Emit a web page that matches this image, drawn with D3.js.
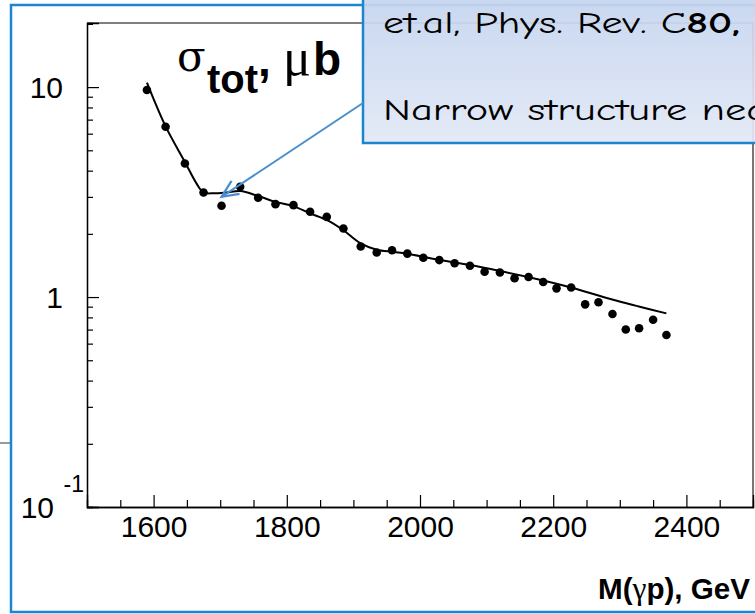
<!DOCTYPE html>
<html><head><meta charset="utf-8">
<script src="https://cdn.jsdelivr.net/npm/d3@7/dist/d3.min.js"></script>
<style>
html,body{margin:0;padding:0;background:#fff;overflow:hidden;}
svg{display:block;}
</style></head>
<body>
<svg id="chart" width="755" height="614"></svg>
<script>
// ---- data ----
const massPoints = [1590,1618,1647,1675,1702,1730,1757,1783,1810,1835,1860,1885,1911,1935,1958,1981,2005,2029,2052,2075,2097,2120,2142,2163,2185,2205,2227,2248,2268,2289,2309,2329,2350,2370];
const sigmaPoints = [9.68,6.47,4.33,3.15,2.72,3.35,2.97,2.77,2.74,2.55,2.41,2.12,1.74,1.63,1.67,1.61,1.54,1.50,1.45,1.41,1.32,1.31,1.23,1.245,1.18,1.10,1.11,0.923,0.944,0.83,0.70,0.71,0.78,0.66];
const massFit = [1590,1618,1647,1665,1675,1690,1710,1730,1757,1783,1810,1835,1860,1885,1911,1935,1960,1985,2030,2075,2120,2185,2227,2290,2330,2370];
const sigmaFit = [10.5,6.5,4.4,3.45,3.15,3.12,3.15,3.2,3.03,2.84,2.71,2.50,2.33,2.08,1.80,1.68,1.64,1.60,1.50,1.42,1.33,1.20,1.11,0.97,0.90,0.836];
const xMajorTicks = [1600,1800,2000,2200,2400];
const xMinorTicks = [1550,1650,1700,1750,1850,1900,1950,2050,2100,2150,2250,2300,2350,2450];
const yMajorTicks = [0.1,1,10];
const yMinorTicks = [0.2,0.3,0.4,0.5,0.6,0.7,0.8,0.9,2,3,4,5,6,7,8,9,20];
const arrowTarget = {m:1702, s:3.0};

const svg = d3.select("#chart");
const L=87, R=753, T=23, B=507;
const x = d3.scaleLinear().domain([1500,2500]).range([L,R]);
const y = d3.scaleLog().domain([0.1, 20.2]).range([B,T]);

// outer slide frame
svg.append("line").attr("x1",0).attr("x2",10).attr("y1",443).attr("y2",443)
  .attr("stroke","#9a9a9a").attr("stroke-width",2);
svg.append("rect").attr("x",11).attr("y",5).attr("width",800).attr("height",607)
  .attr("fill","#fff").attr("stroke","#1a86d0").attr("stroke-width",2.5);

// plot frame top/right
svg.append("line").attr("x1",L).attr("x2",R).attr("y1",T).attr("y2",T).attr("stroke","#555").attr("stroke-width",1.3);
svg.append("line").attr("x1",R).attr("x2",R).attr("y1",T).attr("y2",B).attr("stroke","#777").attr("stroke-width",2);

const lf = "Liberation Sans, Arial, sans-serif";
const sf = "DejaVu Serif, Liberation Serif, serif";

// axes
const gx = svg.append("g").attr("transform",`translate(0,${B})`);
gx.call(d3.axisBottom(x).tickValues(xMajorTicks).tickSize(-12).tickPadding(9).tickFormat(d3.format("d")));
gx.append("g").call(d3.axisBottom(x).tickValues(xMinorTicks).tickSize(-7).tickFormat(""));
gx.selectAll(".domain").attr("stroke","#000").attr("stroke-width",1.3);
gx.selectAll(".tick line").attr("stroke","#000").attr("stroke-width",1.2);
gx.selectAll(".tick text").attr("font-family",lf).attr("font-size",30).attr("fill","#000");

const gy = svg.append("g").attr("transform",`translate(${L},0)`);
gy.call(d3.axisLeft(y).tickValues(yMajorTicks).tickSize(-12).tickFormat(""));
gy.append("g").call(d3.axisLeft(y).tickValues(yMinorTicks).tickSize(-6).tickFormat(""));
gy.selectAll(".domain").attr("stroke","#000").attr("stroke-width",1.3);
gy.selectAll(".tick line").attr("stroke","#000").attr("stroke-width",1.2);

// y labels
svg.append("text").attr("x",63).attr("y",y(10)).attr("dy","0.36em").attr("text-anchor","end")
  .attr("font-family",lf).attr("font-size",30).text("10");
svg.append("text").attr("x",63).attr("y",y(1)).attr("dy","0.36em").attr("text-anchor","end")
  .attr("font-family",lf).attr("font-size",30).text("1");
svg.append("text").attr("x",54).attr("y",y(0.1)+11).attr("text-anchor","end")
  .attr("font-family",lf).attr("font-size",30).text("10");
svg.append("text").attr("x",84).attr("y",y(0.1)-15).attr("text-anchor","end")
  .attr("font-family",lf).attr("font-size",23).text("-1");

// x title
const xt = svg.append("text").attr("x",750).attr("y",599).attr("text-anchor","end")
  .attr("font-family",lf).attr("font-weight","bold").attr("font-size",30)
  .attr("textLength",152).attr("lengthAdjust","spacingAndGlyphs");
xt.append("tspan").text("M(");
xt.append("tspan").attr("font-family","Liberation Serif, serif").attr("font-weight","normal").attr("font-size",32).text("γ");
xt.append("tspan").text("p), GeV");

// y title
const yt = svg.append("text").attr("font-family",lf).attr("font-weight","bold").attr("fill","#000");
yt.append("tspan").attr("x",177).attr("y",71).attr("font-family",sf).attr("font-weight","normal").attr("font-size",42).text("σ");
yt.append("tspan").attr("x",207).attr("y",93).attr("font-size",40).text("tot");
yt.append("tspan").attr("x",258).attr("y",76).attr("font-size",46).text(",");
yt.append("tspan").attr("x",283).attr("y",75).attr("font-family","Liberation Serif, serif").attr("font-weight","normal").attr("font-size",52).text("μ");
yt.append("tspan").attr("x",313).attr("y",75).attr("font-size",46).text("b");

// fit line
const fit = massFit.map((m,i)=>[m,sigmaFit[i]]);
svg.append("path").datum(fit)
  .attr("d", d3.line().x(d=>x(d[0])).y(d=>y(d[1])).curve(d3.curveCatmullRom.alpha(0.5)))
  .attr("fill","none").attr("stroke","#000").attr("stroke-width",2);

// data points
svg.append("g").selectAll("circle").data(massPoints.map((m,i)=>[m,sigmaPoints[i]])).join("circle")
  .attr("cx",d=>x(d[0])).attr("cy",d=>y(d[1])).attr("r",4.3).attr("fill","#000");

// callout box
const defs = svg.append("defs");
const grad = defs.append("linearGradient").attr("id","bg").attr("x1",0).attr("y1",0).attr("x2",0).attr("y2",1);
grad.append("stop").attr("offset","0%").attr("stop-color","#c3d3ee");
grad.append("stop").attr("offset","100%").attr("stop-color","#e2e9f6");
svg.append("rect").attr("x",363).attr("y",-10).attr("width",420).attr("height",153)
  .attr("fill","url(#bg)").attr("fill-opacity",0.93).attr("stroke","#1a86d0").attr("stroke-width",2.5);
const cf = "Comic Sans MS, Comic Neue, Noto Sans, sans-serif";
const t1 = svg.append("text").attr("x",383).attr("y",33).attr("font-family",cf).attr("font-size",31).attr("fill","#000")
  .attr("textLength",357).attr("lengthAdjust","spacingAndGlyphs");
t1.append("tspan").text("et.al, Phys. Rev. C");
t1.append("tspan").attr("font-weight","bold").text("80,");
svg.append("text").attr("x",383).attr("y",120).attr("font-family",cf).attr("font-size",31).attr("fill","#000")
  .attr("textLength",402).attr("lengthAdjust","spacingAndGlyphs")
  .text("Narrow structure near");

// arrow
const tx = x(arrowTarget.m), ty = y(arrowTarget.s);
svg.append("line").attr("x1",363).attr("y1",103).attr("x2",tx).attr("y2",ty)
  .attr("stroke","#4a8ed0").attr("stroke-width",2);
svg.append("path").attr("d",`M${tx+10},${ty-16}L${tx},${ty}L${tx+18},${ty-3}`)
  .attr("fill","none").attr("stroke","#4a8ed0").attr("stroke-width",2.2);
</script>
</body></html>
